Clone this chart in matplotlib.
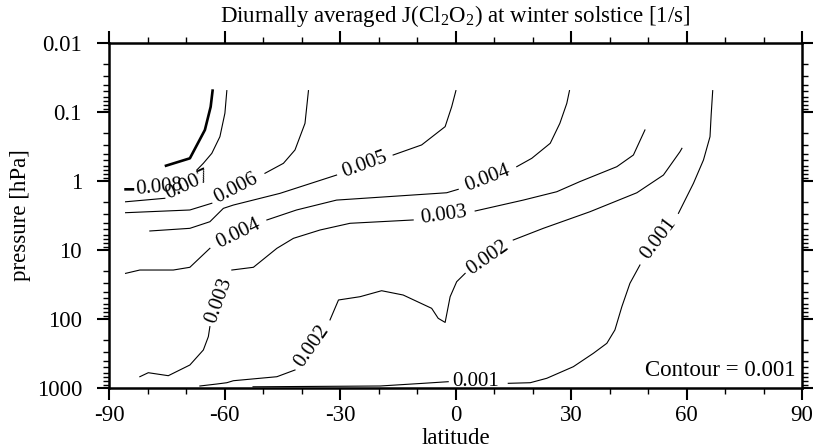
import numpy as np
import matplotlib
matplotlib.use("Agg")
import matplotlib.pyplot as plt
from matplotlib.ticker import FixedLocator, FixedFormatter, MultipleLocator, LogLocator, NullFormatter

plt.rcParams['font.family'] = ['Liberation Serif', 'DejaVu Serif']

nan = np.nan

# contour lines: latitude [deg], pressure [hPa]
# (nan breaks the line where a label sits)
lat_008 = [-85.7, -83.8, nan, -75.2, -69.0, -65.1, -63.6, -63.1]
p_008 = [1.32, 1.32, nan, 0.60, 0.469, 0.182, 0.084, 0.049]

lat_007 = [-85.7, -75.5, nan, -67.2, -65.5, -63.3, -61.2, -59.9, -59.4]
p_007 = [2.0, 1.78, nan, 0.693, 0.554, 0.397, 0.228, 0.104, 0.049]

lat_006 = [-85.7, -69.0, -63.3, nan, -49.5, -44.7, -41.7, -39.1, -38.2]
p_006 = [2.88, 2.63, 2.1, nan, 0.773, 0.554, 0.355, 0.146, 0.049]

lat_005 = [-79.4, -69.0, -63.8, -60.3, -57.7, -45.6, -30.9, nan,
           -16.2, -8.8, -2.7, -1.0, 0.1]
p_005 = [5.3, 4.85, 3.89, 2.49, 2.23, 1.51, 0.82, nan,
         0.42, 0.30, 0.163, 0.084, 0.049]

lat_004 = [-85.7, -82.0, -73.3, -69.0, -63.8, nan,
           -49.0, -41.3, -30.9, -2.3, 0.7, nan,
           15.9, 19.8, 24.6, 27.1, 28.9, 29.6]
p_004 = [21.8, 19.5, 19.5, 17.8, 9.45, nan,
         3.67, 2.63, 1.89, 1.48, 1.32, nan,
         0.62, 0.469, 0.284, 0.146, 0.075, 0.049]

lat_003 = [-82.0, -79.8, -74.6, -69.0, -65.5, -64.2, -63.8, nan,
           -58.1, -52.5, -46.4, -42.1, -35.2, -27.4, -11.0, nan,
           5.1, 17.6, 26.3, 32.3, 41.9, 46.2, 49.2]
p_003 = [686, 600, 663, 464, 281, 180, 129, nan,
         19.5, 17.8, 9.45, 6.77, 5.13, 4.10, 3.67, nan,
         2.72, 1.89, 1.43, 1.02, 0.62, 0.42, 0.182]

lat_002 = [-66.4, -62.0, -59.4, -57.7, -46.4, -41.7, nan,
           -32.6, -30.4, -24.8, -19.2, -13.6, -6.2, -4.5, -2.7, -1.4, 0.3, 2.5, nan,
           15.0, 22.8, 34.9, 47.1, 54.0, 58.3, 58.8]
p_002 = [935, 875, 838, 784, 686, 548, nan,
         103, 53, 47.5, 38.9, 44.9, 70, 97.7, 112, 47.5, 28.8, 21.8, nan,
         7.16, 4.85, 2.79, 1.48, 0.82, 0.376, 0.336]

lat_001 = [-52.6, -19.6, -8.4, -1.9, nan,
           13.7, 19.4, 23.7, 30.6, 35.8, 39.3, 41.4, 43.2, 45.3, 47.9, nan,
           57.9, 61.8, 64.4, 66.1, 66.4, 66.8]
p_001 = [960, 935, 855, 810, nan,
         855, 838, 723, 491, 314, 225, 144, 66.3, 30.4, 16.5, nan,
         2.94, 1.08, 0.496, 0.228, 0.11, 0.049]

# line labels: text, latitude, pressure, angle
label_text = ['0.008', '0.007', '0.006', '0.005', '0.004', '0.004',
              '0.003', '0.003', '0.002', '0.002', '0.001', '0.001']
label_lat = [-77.0, -69.6, -57.1, -23.5, -56.4, 8.3,
             -61.3, -3.0, -37.4, 8.5, 52.9, 5.3]
label_p = [1.24, 1.14, 1.28, 0.586, 5.87, 0.905,
           53, 3.16, 252, 12.8, 6.93, 805]
label_angle = [5, 25, 27, 20, 26, 21, 70, 8, 55, 35, 53, 0]

xticks = [-90, -60, -30, 0, 30, 60, 90]
yticks = [0.01, 0.1, 1, 10, 100, 1000]
ytick_labels = ['0.01', '0.1', '1', '10', '100', '1000']

fig = plt.figure(figsize=(8.13, 4.48), dpi=100)
ax = fig.add_axes([0.1341, 0.1339, 0.8524, 0.7701])

lines = [(lat_007, p_007), (lat_006, p_006), (lat_005, p_005), (lat_004, p_004),
         (lat_003, p_003), (lat_002, p_002), (lat_001, p_001)]
for la, pr in lines:
    ax.plot(la, pr, color='black', lw=0.8)
ax.plot(lat_008, p_008, color='black', lw=1.9)

for s, la, pr, ang in zip(label_text, label_lat, label_p, label_angle):
    ax.text(la, pr, s, rotation=ang, rotation_mode='anchor',
            ha='center', va='center', fontsize=15)

ax.set_yscale('log')
ax.set_xlim(-90, 90)
ax.set_ylim(1000, 0.01)

ax.xaxis.set_major_locator(FixedLocator(xticks))
ax.xaxis.set_major_formatter(FixedFormatter([str(t) for t in xticks]))
ax.xaxis.set_minor_locator(MultipleLocator(10))
ax.yaxis.set_major_locator(FixedLocator(yticks))
ax.yaxis.set_major_formatter(FixedFormatter(ytick_labels))
ax.yaxis.set_minor_locator(LogLocator(base=10, subs=range(2, 10)))
ax.yaxis.set_minor_formatter(NullFormatter())

ax.tick_params(which='both', direction='out', top=True, right=True, labelsize=16.5)
ax.tick_params(which='major', length=8.5, width=1.5)
ax.tick_params(axis='x', which='major', pad=4)
ax.tick_params(axis='y', which='major', pad=11)
ax.tick_params(which='minor', length=4.3, width=1.0)
for sp in ax.spines.values():
    sp.set_linewidth(1.8)
    sp.set_zorder(5)

ax.set_xlabel('latitude', fontsize=16.5, labelpad=1)
ax.set_ylabel('pressure [hPa]', fontsize=16.5, labelpad=4)
ax.set_title(r'Diurnally averaged J(Cl$_\mathregular{2}$O$_\mathregular{2}$) at winter solstice [1/s]',
             fontsize=16.5, pad=15)
ax.text(0.99, 0.052, 'Contour = 0.001', transform=ax.transAxes,
        ha='right', va='center', fontsize=16.5)

fig.savefig('out.png', dpi=100)
